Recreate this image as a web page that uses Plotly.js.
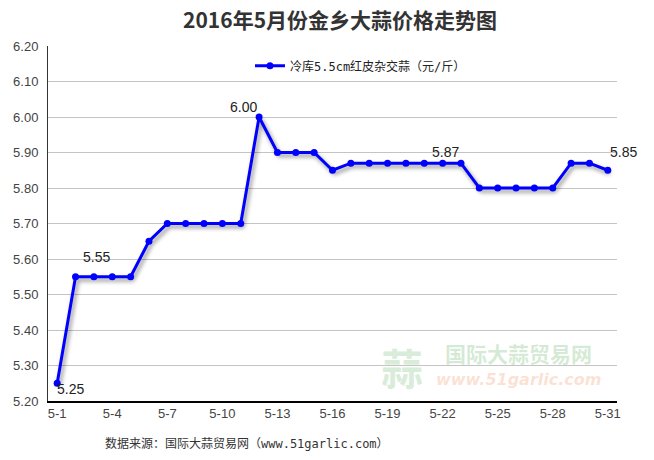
<!DOCTYPE html>
<html>
<head>
<meta charset="utf-8">
<script src="https://cdn.plot.ly/plotly-3.0.1.min.js"></script>
<style>
html,body{margin:0;padding:0;background:#fff;}
#chart{width:654px;height:460px;}
.scatterlayer .trace path.js-line{filter:drop-shadow(2px 3px 2px rgba(0,0,0,0.45));}
</style>
</head>
<body>
<div id="chart"></div>
<script>
// Data
const dates = ["5-1","5-2","5-3","5-4","5-5","5-6","5-7","5-8","5-9","5-10","5-11","5-12","5-13","5-14","5-15","5-16","5-17","5-18","5-19","5-20","5-21","5-22","5-23","5-24","5-25","5-26","5-27","5-28","5-29","5-30","5-31"];
const prices = [5.25,5.55,5.55,5.55,5.55,5.65,5.70,5.70,5.70,5.70,5.70,6.00,5.90,5.90,5.90,5.85,5.87,5.87,5.87,5.87,5.87,5.87,5.87,5.80,5.80,5.80,5.80,5.80,5.87,5.87,5.85];
const xTickLabels = ["5-1","5-4","5-7","5-10","5-13","5-16","5-19","5-22","5-25","5-28","5-31"];
const labelIdx = [0,2,11,21,30];
const seriesName = "冷库5.5cm红皮杂交蒜（元/斤）";
const titleText = "2016年5月份金乡大蒜价格走势图";
const sourceText = "数据来源：国际大蒜贸易网（www.51garlic.com）";

// label offsets (style)
const labelShift = {0:[13,-6],2:[3,20],11:[-16,10],21:[3,11],30:[16,18]};

const annotations = labelIdx.map(i => ({
  x: dates[i], y: prices[i], xref:'x', yref:'y', xanchor:'center', yanchor:'middle',
  text: prices[i].toFixed(2), showarrow:false,
  xshift: labelShift[i][0], yshift: labelShift[i][1],
  font:{family:'Liberation Sans, Arial, sans-serif', size:14, color:'#222'}
}));

// watermark
annotations.push(
  {xref:'paper', yref:'paper', x:(402-48)/569, y:(401-366)/355, xanchor:'center', yanchor:'middle', text:'<b>蒜</b>', showarrow:false,
   font:{family:'Noto Sans CJK SC', size:42, color:'rgba(120,190,120,0.28)'}},
  {xref:'paper', yref:'paper', x:(518-48)/569, y:(401-353)/355, xanchor:'center', yanchor:'middle', text:'<b>国际大蒜贸易网</b>', showarrow:false,
   font:{family:'Noto Sans CJK SC', size:21, color:'rgba(120,190,120,0.33)'}},
  {xref:'paper', yref:'paper', x:(518-48)/569, y:(401-379)/355, xanchor:'center', yanchor:'middle', text:'<i><b>www.51garlic.com</b></i>', showarrow:false,
   font:{family:'DejaVu Sans, sans-serif', size:16, color:'rgba(245,160,120,0.33)'}},
  {xref:'paper', yref:'paper', x:(103-48)/569, y:(401-443)/355, xanchor:'left', yanchor:'middle',
   text: sourceText, showarrow:false,
   font:{family:'DejaVu Sans Mono, Noto Sans CJK SC, monospace', size:12, color:'#333'}}
);

const trace = {
  x: dates, y: prices, type:'scatter', mode:'lines+markers', name: seriesName,
  line:{color:'#0000ff', width:3},
  marker:{color:'#0000ff', size:7},
  cliponaxis:false
};

const layout = {
  width:654, height:460,
  margin:{l:48, r:37, t:46, b:59},
  paper_bgcolor:'#fff', plot_bgcolor:'#fff',
  title:{text:'<b>'+titleText+'</b>', x:0.52, xanchor:'center', y:0.955, yanchor:'middle',
    font:{family:'Noto Sans CJK SC, sans-serif', size:21, color:'#333'}},
  showlegend:true,
  legend:{x:0.355, y:0.985, xanchor:'left', yanchor:'top', bgcolor:'rgba(0,0,0,0)',
    font:{family:'DejaVu Sans Mono, Noto Sans CJK SC, monospace', size:12, color:'#222'}},
  xaxis:{type:'category', range:[-0.5,30.5], tickmode:'array', tickvals:xTickLabels, ticktext:xTickLabels,
    showgrid:false, showline:true, linecolor:'#000', linewidth:1.5, ticks:'', zeroline:false,
    tickfont:{family:'Liberation Sans, Arial, sans-serif', size:13, color:'#444'}, fixedrange:true},
  yaxis:{range:[5.2,6.2], dtick:0.1, tick0:5.2, tickformat:'.2f', showgrid:true, gridcolor:'#c4c4c4', gridwidth:1,
    showline:true, linecolor:'#333', linewidth:1, ticks:'', zeroline:false, ticklabelstandoff:6,
    tickfont:{family:'Liberation Sans, Arial, sans-serif', size:13, color:'#444'}, fixedrange:true},
  annotations: annotations
};

Plotly.newPlot('chart', [trace], layout, {displayModeBar:false, staticPlot:true});
</script>
</body>
</html>
